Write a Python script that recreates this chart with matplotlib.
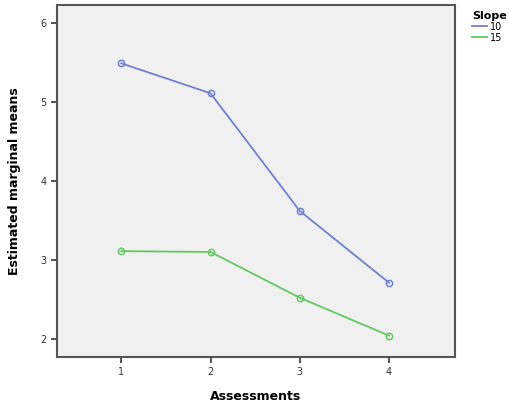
import matplotlib
matplotlib.use('Agg')
import matplotlib.pyplot as plt

assessments = [1, 2, 3, 4]
slope_10 = [5.49, 5.11, 3.62, 2.71]
slope_15 = [3.11, 3.10, 2.52, 2.04]
series_names = ['10', '15']
colors = ['#6f80cc', '#62c862']

fig = plt.figure(figsize=(5.09, 4.07), dpi=100)
ax = fig.add_axes([0.112, 0.123, 0.782, 0.865])
ax.set_facecolor('#f0f0f0')

for vals, name, c in zip([slope_10, slope_15], series_names, colors):
    ax.plot(assessments, vals, color=c, lw=1.3, marker='o', ms=4.5,
            mfc='none', mec=c, mew=1.1, label=name)

ax.set_xlim(0.28, 4.74)
ax.set_ylim(1.77, 6.23)
ax.set_xticks(assessments)
ax.set_yticks([2, 3, 4, 5, 6])
ax.tick_params(labelsize=7, colors='#333333', length=4, width=1.2)
for s in ax.spines.values():
    s.set_color('#555555')
    s.set_linewidth(1.5)

ax.set_xlabel('Assessments', fontsize=9, fontweight='bold', labelpad=9)
ax.set_ylabel('Estimated marginal means', fontsize=9, fontweight='bold', labelpad=14)

leg = fig.legend(loc='upper left', bbox_to_anchor=(0.91, 0.995), frameon=False,
                 title='Slope', fontsize=7, handlelength=1.6, handletextpad=0.3,
                 labelspacing=0.1, title_fontproperties={'weight': 'bold', 'size': 8})
leg._legend_box.align = 'left'
for h in leg.legend_handles:
    h.set_marker('')

fig.savefig('out.png', dpi=100)
